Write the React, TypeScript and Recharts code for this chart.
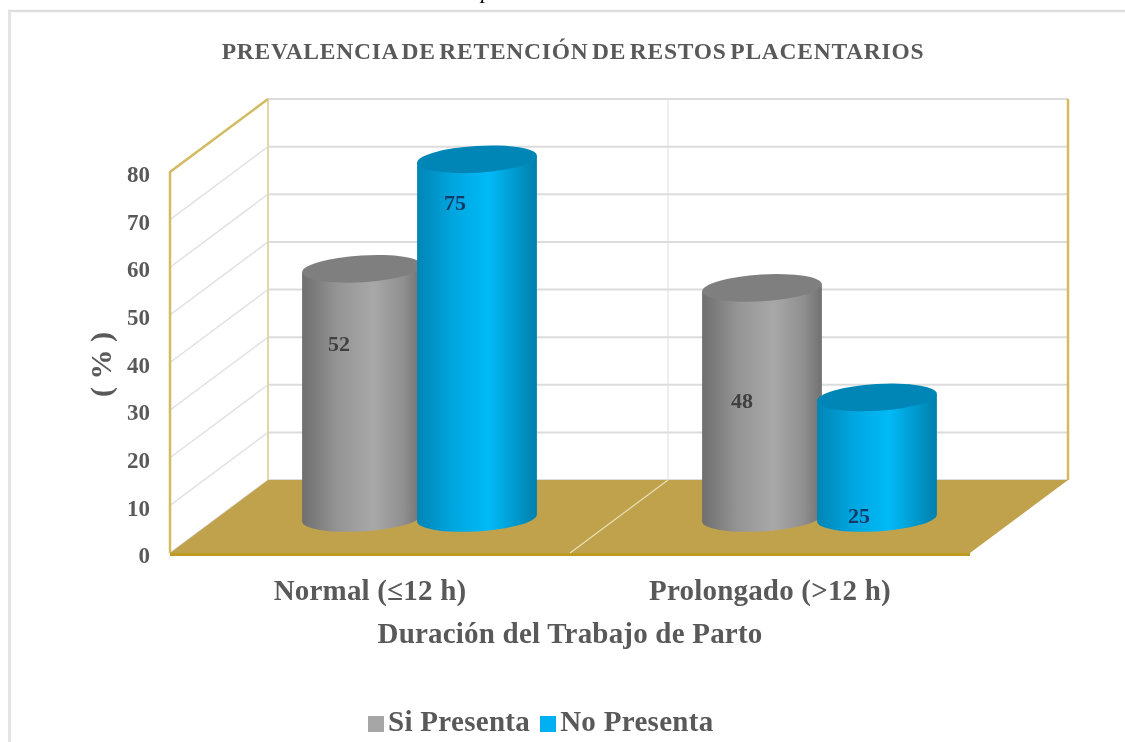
import { BarChart, Bar, XAxis, YAxis, CartesianGrid, Legend, LabelList, Customized, usePlotArea } from 'recharts'

const CATEGORIES = ['Normal (≤12 h)', 'Prolongado (>12 h)']
const SI_PRESENTA = [52, 48]
const NO_PRESENTA = [75, 25]
const Y_TICKS = [0, 10, 20, 30, 40, 50, 60, 70, 80]

const CHART_DATA = CATEGORIES.map((name, i) => ({ name, si: SI_PRESENTA[i], no: NO_PRESENTA[i] }))

// depth of the fake 3d box: the back wall sits this far from the front plane
const DEPTH_X = 98
const DEPTH_Y = 73
const TILT = -3.5
const CAP_RY = 13.4

const TEXT = '#595959'
const SERIF = '"Liberation Serif", "Times New Roman", serif'
const GOLD = '#d3bb62'
const PALE_GOLD = '#e6d6a6'

// manual label placement from the original, relative to the cylinder
const SI_NUDGE = [[-23, 75], [-20, 113]]
const NO_NUDGE = [[-22, 43], [-18, 118]]

function Cylinder(props: any) {
  const { x, y, width, height, side, cap } = props
  const cx = x + width / 2 + DEPTH_X / 2
  const top = y - DEPTH_Y / 2
  const bottom = y + height - DEPTH_Y / 2 + 1.5
  const a = width / 2
  const b = CAP_RY
  const th = (TILT * Math.PI) / 180
  const t = Math.atan(-(b / a) * Math.tan(th))
  const ex = a * Math.cos(t) * Math.cos(th) - b * Math.sin(t) * Math.sin(th)
  const ey = a * Math.cos(t) * Math.sin(th) + b * Math.sin(t) * Math.cos(th)
  const d = [
    `M${cx - ex},${top - ey}`,
    `L${cx - ex},${bottom - ey}`,
    `A${a},${b} ${TILT} 0 0 ${cx + ex},${bottom + ey}`,
    `L${cx + ex},${top + ey}`,
    'Z',
  ].join(' ')
  return (
    <g>
      <path d={d} fill={side} />
      <ellipse cx={cx} cy={top} rx={a} ry={b} fill={cap} transform={`rotate(${TILT} ${cx} ${top})`} />
    </g>
  )
}

function ValueLabel(props: any) {
  const { x, y, width, value, index, nudge, color } = props
  const [dx, dy] = nudge[index]
  return (
    <text
      x={x + width / 2 + DEPTH_X / 2 + dx}
      y={y - DEPTH_Y / 2 + dy}
      textAnchor="middle"
      dominantBaseline="central"
      fontFamily={SERIF}
      fontWeight={700}
      fontSize={22}
      fill={color}
    >
      {value}
    </text>
  )
}

function GridLine(props: any) {
  const { x1, x2, y1 } = props
  const backY = y1 - DEPTH_Y
  return (
    <g>
      <line x1={x1} y1={y1} x2={x1 + DEPTH_X} y2={backY} stroke="#e2e0e8" strokeWidth={1.5} />
      <line x1={x1 + DEPTH_X} y1={backY} x2={x2 + DEPTH_X} y2={backY} stroke="#dcdcdc" strokeWidth={2} />
    </g>
  )
}

function Box() {
  const plot = usePlotArea()
  if (!plot) return null
  const left = plot.x
  const right = plot.x + plot.width
  const top = plot.y
  const bottom = plot.y + plot.height
  const mid = left + plot.width / 2
  return (
    <g>
      <line x1={mid + DEPTH_X} y1={top - DEPTH_Y} x2={mid + DEPTH_X} y2={bottom - DEPTH_Y} stroke="#dddddd" strokeWidth={1} />
      <line x1={left + DEPTH_X} y1={top - DEPTH_Y} x2={left + DEPTH_X} y2={bottom - DEPTH_Y} stroke={PALE_GOLD} strokeWidth={2} />
      <line x1={right + DEPTH_X} y1={top - DEPTH_Y} x2={right + DEPTH_X} y2={bottom - DEPTH_Y} stroke={GOLD} strokeWidth={2.5} />
      <polyline
        points={`${left},${bottom} ${left},${top} ${left + DEPTH_X},${top - DEPTH_Y}`}
        fill="none"
        stroke={GOLD}
        strokeWidth={2.5}
      />
      <polygon
        points={`${left},${bottom} ${left + DEPTH_X},${bottom - DEPTH_Y} ${right + DEPTH_X},${bottom - DEPTH_Y} ${right},${bottom}`}
        fill="#bfa24b"
      />
      <rect x={left} y={bottom} width={plot.width} height={3} fill="#bb9c1e" />
      <line x1={mid} y1={bottom} x2={mid + DEPTH_X} y2={bottom - DEPTH_Y} stroke="#eadfb8" strokeWidth={1.2} />
    </g>
  )
}

function PageMarks() {
  return (
    <g>
      <text x={481} y={-2} fontFamily={SERIF} fontStyle="italic" fontSize={22} fill="#000">p</text>
      <line x1={8} y1={11} x2={1125} y2={11} stroke="#dedede" strokeWidth={2.5} />
      <line x1={9.5} y1={11} x2={9.5} y2={742} stroke="#e4e4e4" strokeWidth={3} />
      <text
        x={573}
        y={51}
        textAnchor="middle"
        dominantBaseline="central"
        fontFamily={SERIF}
        fontWeight={700}
        fontSize={23.5}
        letterSpacing={0.75}
        wordSpacing={-3}
        fill={TEXT}
      >
        PREVALENCIA DE RETENCIÓN DE RESTOS PLACENTARIOS
      </text>
    </g>
  )
}

export default function App() {
  return (
    <div style={{ position: 'absolute', left: 0, top: 0, width: 1125, height: 742, background: '#fff', filter: 'blur(0.6px)' }}>
      <BarChart
        width={1125}
        height={742}
        data={CHART_DATA}
        barSize={120}
        barGap={-5}
        margin={{ top: 172, right: 155, bottom: 7, left: 0 }}
      >
        <defs>
          <linearGradient id="sideGray" x1="0" y1="0" x2="1" y2="0">
            <stop offset="0" stopColor="#6f6f6f" />
            <stop offset="0.3" stopColor="#959595" />
            <stop offset="0.6" stopColor="#a8a8a8" />
            <stop offset="0.85" stopColor="#8f8f8f" />
            <stop offset="1" stopColor="#707070" />
          </linearGradient>
          <linearGradient id="sideBlue" x1="0" y1="0" x2="1" y2="0">
            <stop offset="0" stopColor="#0085b5" />
            <stop offset="0.3" stopColor="#00a6e0" />
            <stop offset="0.6" stopColor="#00baf7" />
            <stop offset="0.85" stopColor="#0095c8" />
            <stop offset="1" stopColor="#007fab" />
          </linearGradient>
        </defs>
        <Customized component={<PageMarks />} />
        <CartesianGrid vertical={false} horizontal={(p: any) => <GridLine key={p.key} {...p} />} />
        <Customized component={<Box />} />
        <XAxis
          dataKey="name"
          axisLine={false}
          tickLine={false}
          height={152}
          tickMargin={20}
          interval={0}
          tick={{ fill: TEXT, fontSize: 29, fontWeight: 700, fontFamily: SERIF, letterSpacing: 0.2 }}
          label={{
            value: 'Duración del Trabajo de Parto',
            position: 'insideTop',
            offset: 69,
            fill: TEXT,
            fontSize: 29,
            fontWeight: 700,
            fontFamily: SERIF,
            letterSpacing: 0.2,
          }}
        />
        <YAxis
          domain={[0, 80]}
          ticks={Y_TICKS}
          interval={0}
          width={170}
          axisLine={false}
          tickLine={false}
          tickMargin={14}
          tick={{ fill: TEXT, fontSize: 23, fontWeight: 700, fontFamily: SERIF, dy: 2 }}
          label={{
            value: '( % )',
            angle: -90,
            position: 'insideLeft',
            offset: 100,
            dy: 2,
            textAnchor: 'middle',
            fill: TEXT,
            fontSize: 30,
            fontWeight: 700,
            fontFamily: SERIF,
          }}
        />
        <Legend
          verticalAlign="bottom"
          align="left"
          height={30}
          itemSorter={null}
          iconType="square"
          iconSize={16}
          wrapperStyle={{ left: 368, width: 500, fontFamily: SERIF, fontWeight: 700, fontSize: 29, letterSpacing: 0.3 }}
          formatter={(value: string) => <span style={{ color: TEXT }}>{value}</span>}
        />
        <Bar
          dataKey="si"
          name="Si Presenta"
          fill="#a6a6a6"
          isAnimationActive={false}
          shape={(p: any) => <Cylinder {...p} side="url(#sideGray)" cap="#7f7f7f" />}
        >
          <LabelList dataKey="si" content={(p: any) => <ValueLabel {...p} nudge={SI_NUDGE} color="#404040" />} />
        </Bar>
        <Bar
          dataKey="no"
          name="No Presenta"
          fill="#00b0f0"
          isAnimationActive={false}
          shape={(p: any) => <Cylinder {...p} side="url(#sideBlue)" cap="#0086b6" />}
        >
          <LabelList dataKey="no" content={(p: any) => <ValueLabel {...p} nudge={NO_NUDGE} color="#123a66" />} />
        </Bar>
      </BarChart>
    </div>
  )
}
